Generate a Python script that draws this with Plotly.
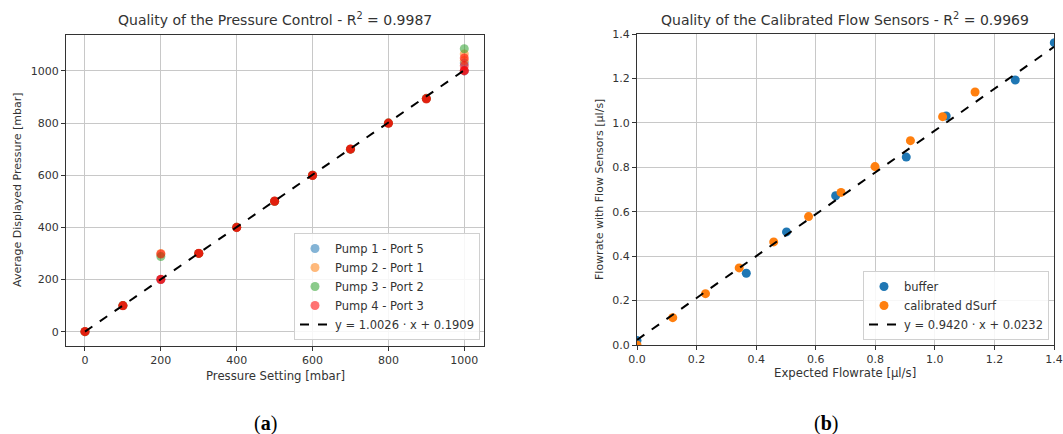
import plotly.graph_objects as go

W, H = 1063, 434

# ---------------- data: panel (a) ----------------
pump1_set = [0, 100, 200, 300, 400, 500, 600, 700, 800, 900, 1000, 1000]
pump1_val = [0, 100, 200, 300, 400, 500, 600, 700, 800, 895, 1000, 1030]
pump2_set = [0, 100, 200, 300, 400, 500, 600, 700, 800, 900, 1000, 1000]
pump2_val = [0, 100, 300, 300, 400, 500, 600, 700, 800, 895, 1065, 1040]
pump3_set = [0, 100, 200, 300, 400, 500, 600, 700, 800, 900, 1000]
pump3_val = [0, 100, 288, 300, 400, 500, 600, 700, 800, 893, 1085]
# Pump 4 was measured in repeated runs
pump4_set = [0, 0, 100, 100, 200, 200, 200, 300, 300, 400, 400, 500, 500, 600, 600,
             700, 700, 800, 800, 900, 900, 1000, 1000, 1000, 1000]
pump4_val = [0, 1, 100, 99, 200, 201, 298, 300, 301, 400, 399, 500, 501, 600, 599,
             700, 701, 800, 799, 892, 894, 1000, 1002, 1020, 1050]
fit_a_slope, fit_a_icpt = 1.0026, 0.1909
fit_a_x = [0, 1000]

# ---------------- data: panel (b) ----------------
buffer_x = [0.0, 0.367, 0.502, 0.667, 0.904, 1.038, 1.270, 1.401]
buffer_y = [0.02, 0.323, 0.509, 0.672, 0.846, 1.031, 1.193, 1.361]
dsurf_x = [0.0, 0.120, 0.230, 0.343, 0.459, 0.576, 0.685, 0.799, 0.918, 1.026, 1.135]
dsurf_y = [0.0, 0.123, 0.231, 0.347, 0.464, 0.578, 0.687, 0.803, 0.920, 1.028, 1.139]
fit_b_slope, fit_b_icpt = 0.9420, 0.0232
fit_b_x = [0.0, 1.4]

ticks_a = [0, 200, 400, 600, 800, 1000]
ticks_b = [0.0, 0.2, 0.4, 0.6, 0.8, 1.0, 1.2, 1.4]

C_BLUE, C_ORANGE, C_GREEN, C_RED = "#1f77b4", "#ff7f0e", "#2ca02c", "#ff0000"
FONT = "DejaVu Sans"
MS = 9

fig = go.Figure()

for name, xs, ys, col in [
    ("Pump 1 - Port 5", pump1_set, pump1_val, C_BLUE),
    ("Pump 2 - Port 1", pump2_set, pump2_val, C_ORANGE),
    ("Pump 3 - Port 2", pump3_set, pump3_val, C_GREEN),
    ("Pump 4 - Port 3", pump4_set, pump4_val, C_RED),
]:
    fig.add_trace(go.Scatter(x=xs, y=ys, mode="markers", name=name,
                             marker=dict(color=col, size=MS, opacity=0.55, line=dict(width=0)),
                             xaxis="x", yaxis="y", legend="legend"))
fig.add_trace(go.Scatter(x=fit_a_x, y=[fit_a_slope * v + fit_a_icpt for v in fit_a_x],
                         mode="lines", name="y = 1.0026 · x + 0.1909",
                         line=dict(color="black", dash="dash", width=2),
                         xaxis="x", yaxis="y", legend="legend"))

fig.add_trace(go.Scatter(x=buffer_x, y=buffer_y, mode="markers", name="buffer",
                         marker=dict(color=C_BLUE, size=MS, line=dict(width=0)), cliponaxis=True,
                         xaxis="x2", yaxis="y2", legend="legend2"))
fig.add_trace(go.Scatter(x=dsurf_x, y=dsurf_y, mode="markers", name="calibrated dSurf",
                         marker=dict(color=C_ORANGE, size=MS, line=dict(width=0)), cliponaxis=True,
                         xaxis="x2", yaxis="y2", legend="legend2"))
fig.add_trace(go.Scatter(x=fit_b_x, y=[fit_b_slope * v + fit_b_icpt for v in fit_b_x],
                         mode="lines", name="y = 0.9420 · x + 0.0232",
                         line=dict(color="black", dash="dash", width=2),
                         xaxis="x2", yaxis="y2", legend="legend2"))

def px(xp):
    return xp / W

def py(yp):
    return 1 - yp / H

axis_common = dict(showline=True, linecolor="#333333", linewidth=1, mirror=True,
                   ticks="outside", ticklen=4, tickcolor="#333333",
                   showgrid=True, gridcolor="#c8c8c8", gridwidth=1, zeroline=False,
                   tickfont=dict(family=FONT, size=11, color="#333333"), automargin=False)

legend_common = dict(xanchor="right", yanchor="bottom",
                     bgcolor="rgba(255,255,255,0.85)", bordercolor="#d0d0d0", borderwidth=1,
                     font=dict(family=FONT, size=11.5, color="#333333"), itemwidth=30,
                     tracegroupgap=0)

fig.update_layout(
    width=W, height=H, margin=dict(l=0, r=0, t=0, b=0),
    paper_bgcolor="white", plot_bgcolor="white",
    font=dict(family=FONT, color="#333333"),
    xaxis=dict(domain=[px(66), px(484)], range=[-50, 1052], tickvals=ticks_a,
               anchor="y", **axis_common),
    yaxis=dict(domain=[py(346), py(34.7)], range=[-55, 1139], tickvals=ticks_a,
               anchor="x", **axis_common),
    xaxis2=dict(domain=[px(637), px(1054)], range=[0, 1.4], tickvals=ticks_b, tickformat=".1f",
                anchor="y2", **axis_common),
    yaxis2=dict(domain=[py(345), py(34)], range=[0, 1.4], tickvals=ticks_b, tickformat=".1f",
                anchor="x2", **axis_common),
    legend=dict(x=px(480), y=py(340), **legend_common),
    legend2=dict(x=px(1049), y=py(340), **legend_common),
    showlegend=True,
)

ann = [
    dict(text="Quality of the Pressure Control - R<sup>2</sup> = 0.9987", x=px(275), y=py(19),
         font=dict(size=14)),
    dict(text="Quality of the Calibrated Flow Sensors - R<sup>2</sup> = 0.9969", x=px(845), y=py(19),
         font=dict(size=14)),
    dict(text="Pressure Setting [mbar]", x=px(275), y=py(376), font=dict(size=11.7)),
    dict(text="Expected Flowrate [µl/s]", x=px(845), y=py(373), font=dict(size=11.7)),
    dict(text="Average Displayed Pressure [mbar]", x=px(17), y=py(190), textangle=-90,
         font=dict(size=11)),
    dict(text="Flowrate with Flow Sensors [µl/s]", x=px(599), y=py(190), textangle=-90,
         font=dict(size=11)),
    dict(text="(<b>a</b>)", x=px(265), y=py(423),
         font=dict(size=20, family="Liberation Serif", color="black")),
    dict(text="(<b>b</b>)", x=px(826), y=py(423),
         font=dict(size=20, family="Liberation Serif", color="black")),
]
for a in ann:
    a.setdefault("font", {})
    a["font"].setdefault("family", FONT)
    a["font"].setdefault("color", "#333333")
    fig.add_annotation(xref="paper", yref="paper", xanchor="center", yanchor="middle",
                       showarrow=False, **a)

fig.write_html("out.html")
